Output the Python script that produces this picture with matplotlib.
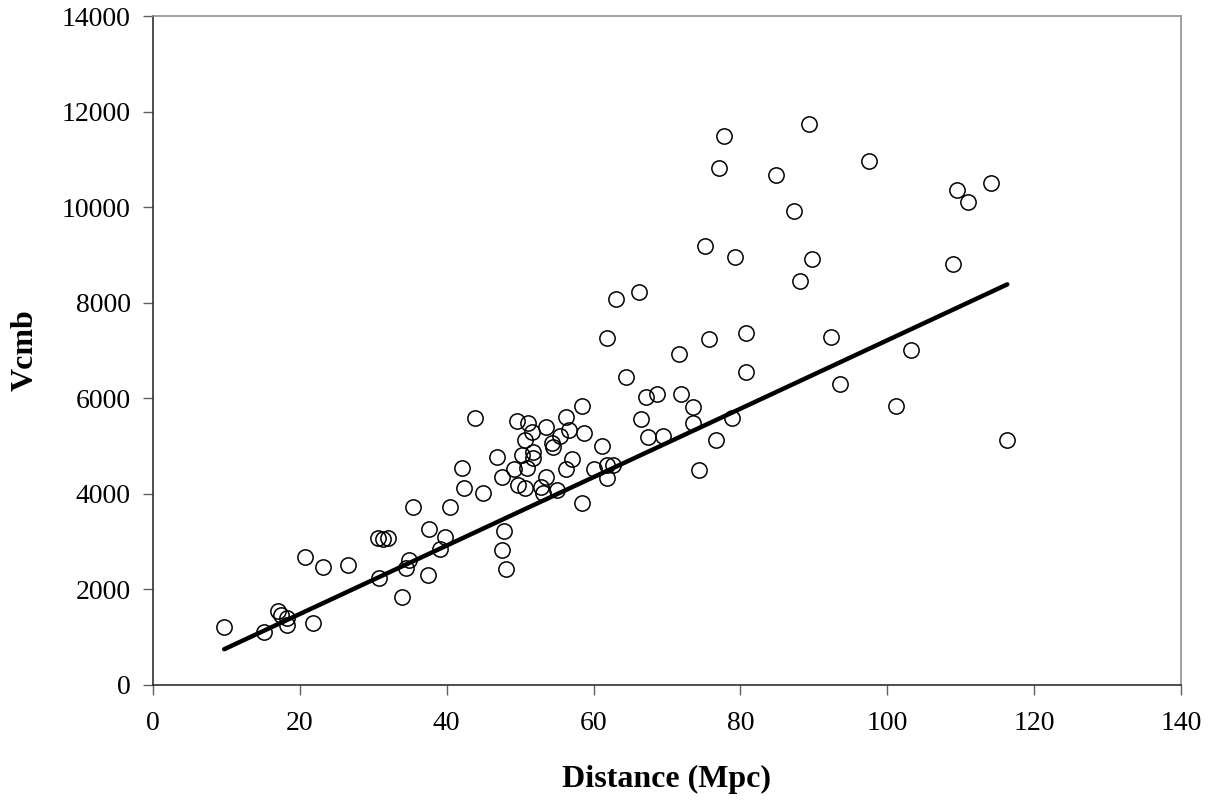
import matplotlib.pyplot as plt
import numpy as np

plt.rcParams['font.family'] = ['Liberation Serif', 'DejaVu Serif']

# distance (Mpc) and CMB-frame velocity (km/s)
distance = [9.7, 15.1, 17.0, 17.5, 18.2, 18.3, 20.7, 21.8, 23.1, 26.5,
            30.6, 30.8, 31.3, 32.0, 33.9, 34.5, 34.8, 35.4, 37.5,
            37.6, 39.1, 39.8, 40.45, 42.1, 42.4, 43.9, 44.9, 46.9, 47.5,
            47.6, 47.8, 48.1, 49.2, 49.6, 49.75, 50.3, 50.6, 50.7, 51.0,
            51.1, 51.65, 51.7, 51.8, 52.9, 53.05, 53.5, 53.5, 54.3, 54.5,
            55.0, 55.4, 56.2, 56.3, 56.65, 57.1, 58.4, 58.4, 58.7, 60.1,
            61.2, 61.8, 61.8, 61.8, 62.7, 63.0, 64.4, 66.2, 66.5, 67.1,
            67.4, 68.7, 69.4, 71.6, 71.9, 73.6, 73.6, 74.3, 75.2, 75.7,
            76.7, 77.1, 77.8, 78.9, 79.3, 80.7, 80.7, 84.9, 87.3, 88.1,
            89.3, 89.8, 92.3, 93.6, 97.5, 101.2, 103.2, 109.0, 109.5, 111.0,
            114.1, 116.3]
vcmb = [1207, 1103, 1548, 1465, 1395, 1255, 2685, 1304, 2475, 2511,
        3069, 2245, 3048, 3069, 1840, 2442, 2616, 3717, 2302,
        3264, 2845, 3090, 3731, 4534, 4128, 5587, 4024, 4777, 4359,
        2825, 3222, 2421, 4514, 5530, 4185, 4813, 5127, 4115, 4534,
        5475, 5300, 4882, 4743, 4150, 4024, 5405, 4345, 5057, 4988,
        4090, 5210, 4514, 5615, 5336, 4729, 5838, 3801, 5280, 4520,
        5008, 7267, 4603, 4324, 4603, 8077, 6451, 8217, 5559, 6033,
        5196, 6083, 5210, 6932, 6089, 5810, 5476, 4499, 9192, 7240,
        5127, 10811, 11494, 5580, 8949, 7372, 6555, 10672, 9924, 8460,
        11732, 8914, 7288, 6298, 10971, 5844, 7010, 8803, 10358, 10113,
        10511, 5127]

# fitted line end points
fit_x = [9.7, 116.35]
fit_y = [747, 8384]

fig = plt.figure(figsize=(12.19, 8.02), dpi=100)
ax = fig.add_axes([0.1255, 0.146, 0.8433, 0.834])

ax.plot(distance, vcmb, 'o', markersize=11, markerfacecolor='none',
        markeredgecolor='black', markeredgewidth=1.1, zorder=3)
ax.plot(fit_x, fit_y, '-', color='black', linewidth=3.2, solid_capstyle='round', zorder=2)

ax.set_xlim(0, 140)
ax.set_ylim(0, 14000)
ax.set_xticks(np.arange(0, 141, 20))
ax.set_yticks(np.arange(0, 14001, 2000))

ax.spines['left'].set_color('#303030')
ax.spines['bottom'].set_color('#303030')
ax.spines['top'].set_color('#909090')
ax.spines['right'].set_color('#909090')
for s in ax.spines.values():
    s.set_linewidth(1.2)
ax.tick_params(direction='out', length=7, width=1.0, color='#606060',
               labelsize=20)
ax.tick_params(axis='x', pad=12)
ax.tick_params(axis='y', pad=9)

ax.set_xlabel('Distance (Mpc)', fontsize=23, fontweight='bold')
ax.set_ylabel('Vcmb', fontsize=23, fontweight='bold')
ax.xaxis.set_label_coords(0.5, -0.142)
ax.xaxis.label.set_va('center')
ax.yaxis.set_label_coords(-0.1245, 0.5)
ax.yaxis.label.set_va('center')

fig.savefig('out.png', dpi=100)
